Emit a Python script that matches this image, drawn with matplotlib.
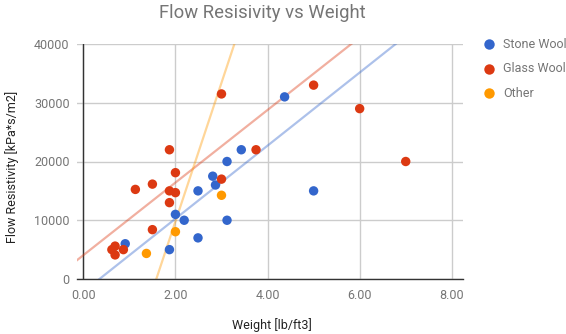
import matplotlib
matplotlib.use("Agg")
import matplotlib.pyplot as plt
from matplotlib.lines import Line2D
import numpy as np

plt.rcParams['font.family'] = ['Roboto', 'DejaVu Sans']

# ---- data ----
series_names = ["Stone Wool", "Glass Wool", "Other"]
series_colors = ["#3366CC", "#DC3912", "#FF9900"]

stone_x = [0.91, 1.87, 2.0, 2.19, 2.49, 2.49, 2.81, 2.87, 3.12, 3.12, 3.43, 4.37, 5.0]
stone_y = [6000, 5000, 11000, 10000, 7000, 15000, 17500, 16000, 10000, 20000, 22000, 31000, 15000]

glass_x = [0.62, 0.69, 0.69, 0.87, 1.13, 1.5, 1.5, 1.87, 1.87, 1.87, 2.0, 2.0, 3.0, 3.0, 3.75, 5.0, 6.0, 7.0]
glass_y = [5000, 5600, 4100, 5000, 15250, 16150, 8400, 22000, 15000, 13000, 18100, 14700, 17000, 31500, 22000, 33000, 29000, 20000]

other_x = [1.37, 2.0, 3.0]
other_y = [4350, 8050, 14250]

# linear trend lines (slope, intercept)
trend_slopes = [6220, 6180, 23600]
trend_intercepts = [-2180, 4050, -37400]

x_ticks = [0, 2, 4, 6, 8]
x_tick_labels = ["0.00", "2.00", "4.00", "6.00", "8.00"]
y_ticks = [0, 10000, 20000, 30000, 40000]
y_tick_labels = ["0", "10000", "20000", "30000", "40000"]

title = "Flow Resisivity vs Weight"
x_label = "Weight [lb/ft3]"
y_label = "Flow Resistivity [kPa*s/m2]"

# ---- figure ----
W, H = 566, 334
fig = plt.figure(figsize=(W / 100, H / 100), dpi=100)
ax = fig.add_axes([76.5 / W, 1 - 279 / H, (463.3 - 76.5) / W, (279 - 44) / H])

xmin, xmax = -0.148, 8.25
ax.set_xlim(xmin, xmax)
ax.set_ylim(0, 40000)

ax.set_xticks(x_ticks)
ax.set_xticklabels(x_tick_labels)
ax.set_yticks(y_ticks)
ax.set_yticklabels(y_tick_labels)
ax.grid(True, color="#cccccc", linewidth=1.0)
ax.set_axisbelow(True)
ax.tick_params(length=0, labelsize=9, colors="#757575")
ax.tick_params(axis='y', pad=5)
ax.tick_params(axis='x', pad=7)
for s in ["top", "right", "left"]:
    ax.spines[s].set_visible(False)
ax.spines["bottom"].set_color("#333333")
ax.spines["bottom"].set_linewidth(1.0)
ax.axvline(0, color="#333333", linewidth=1.0, zorder=1.5)

xs = [stone_x, glass_x, other_x]
ys = [stone_y, glass_y, other_y]

line_x = np.array([xmin, xmax])
for m, b, c in zip(trend_slopes, trend_intercepts, series_colors):
    ax.plot(line_x, m * line_x + b, color=c, alpha=0.4, linewidth=1.6, zorder=2)

for x, y, c in zip(xs, ys, series_colors):
    ax.scatter(x, y, s=46, color=c, edgecolors="none", zorder=3)

fig.text(262 / W, 1 - 13 / H, title, ha="center", va="center", fontsize=13.3, color="#757575")
fig.text(272 / W, 1 - 325.5 / H, x_label, ha="center", va="center", fontsize=9, color="#222222")
fig.text(11.7 / W, 1 - 167 / H, y_label, ha="center", va="center", rotation=90, fontsize=9, color="#222222")

# legend
leg_y = [44, 68.5, 93.3]
for name, c, yy in zip(series_names, series_colors, leg_y):
    fig.add_artist(Line2D([489 / W], [1 - yy / H], marker="o", markersize=7.5,
                          color=c, markeredgewidth=0, linestyle="none",
                          transform=fig.transFigure))
    fig.text(503 / W, 1 - yy / H, name, ha="left", va="center", fontsize=9, color="#757575")

fig.savefig("out.png", dpi=100)
